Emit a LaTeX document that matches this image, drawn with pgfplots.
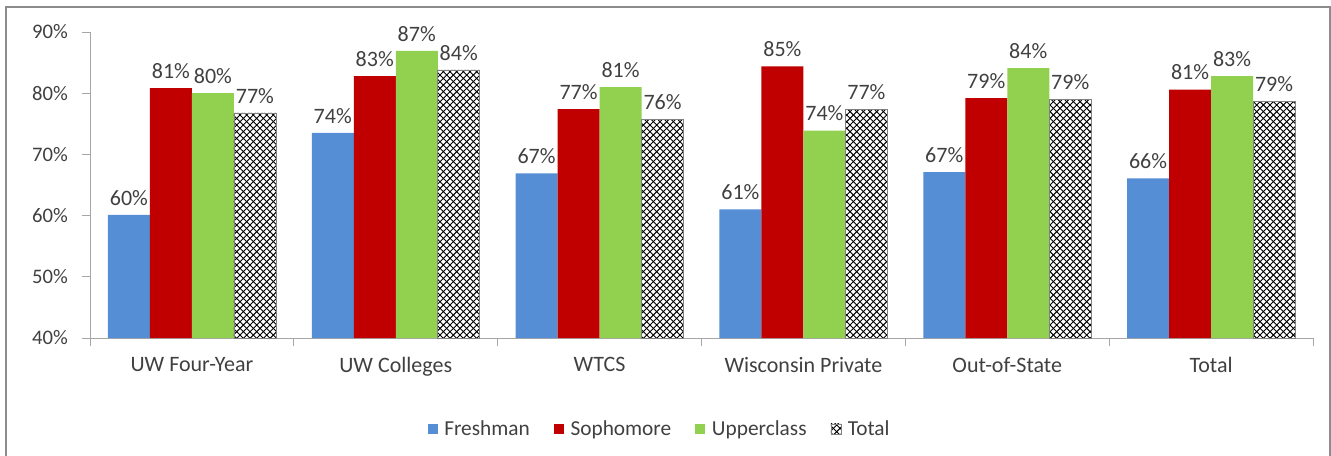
\documentclass[border=0pt]{standalone}
\usepackage{pgfplots}
\pgfplotsset{compat=1.18}
\usepackage{pgfplotstable}
\usepackage{fontspec}
\setmainfont{Carlito}
\usetikzlibrary{patterns.meta}
\definecolor{frc}{HTML}{558ED5}
\definecolor{soc}{HTML}{C00000}
\definecolor{upc}{HTML}{92D050}
\definecolor{txt}{HTML}{404040}
\definecolor{axc}{HTML}{A6A6A6}
\tikzdeclarepattern{name=bigcross, type=uncolored,
  bottom left={(-.5pt,-.5pt)}, top right={(5.5pt,5.5pt)}, tile size={(5pt,5pt)},
  code={\draw[line width=0.7pt] (0pt,0pt)--(5pt,5pt) (0pt,5pt)--(5pt,0pt);}}
\pgfplotstableread{
x fr frl so sol up upl to tol
0 60.1 60 80.85 81 80.0 80 76.8 77
1 73.5 74 82.8 83 86.9 87 83.8 84
2 66.9 67 77.4 77 81.0 81 75.7 76
3 61.0 61 84.4 85 73.9 74 77.4 77
4 67.1 67 79.2 79 84.1 84 79.0 79
5 66.1 66 80.6 81 82.8 83 78.7 79
}\data
\begin{document}
\begin{tikzpicture}
\useasboundingbox (0pt,0pt) rectangle (998.25pt,341.25pt);
\draw[color=black!45, line width=1.5pt] (4.5pt,-2pt) -- (4.5pt,336pt) -- (997.5pt,336pt) -- (997.5pt,-2pt);
\begin{axis}[
  at={(67.5pt,87.75pt)}, anchor=south west,
  scale only axis, width=917.25pt, height=229.5pt,
  ybar=0pt, bar width=31.5pt,
  xmin=-0.5, xmax=5.5, ymin=40, ymax=90,
  ytick={40,50,...,90},
  yticklabel={\pgfmathprintnumber{\tick}\%},
  xtick={0,...,5},
  xticklabels={UW Four-Year, UW Colleges, WTCS, Wisconsin Private, Out-of-State, Total},
  minor xtick={-0.5,0.5,...,5.5},
  axis x line*=bottom, axis y line*=left,
  axis line style={axc, line width=0.75pt},
  tick align=outside,
  major tick length=6pt, minor tick length=6pt,
  major x tick style={draw=none},
  minor x tick style={axc, line width=0.75pt},
  y tick style={axc, line width=0.75pt},
  clip=false,
  /pgf/number format/assume math mode=true,
  tick label style={font=\fontsize{16.5}{19}\selectfont, text=txt},
  yticklabel style={font=\fontsize{15.5}{18}\selectfont, xshift=-7pt},
  xticklabel style={yshift=-5pt},
  point meta=explicit symbolic,
  nodes near coords={\pgfplotspointmeta\%},
  nodes near coords style={font=\fontsize{16.5}{19}\selectfont, text=txt, yshift=3.5pt},
  legend image code/.code={\fill[#1] (0pt,-3.75pt) rectangle (7.5pt,3.75pt);},
  legend style={at={(0.466,-0.297)}, anchor=center, draw=none, fill=none,
    legend columns=4, font=\fontsize{16}{19}\selectfont, text=txt,
    /tikz/every odd column/.append style={column sep=3pt},
    /tikz/every even column/.append style={column sep=16pt}},
]
\addplot[fill=frc, draw=none] table[x=x,y=fr,meta=frl] \data;
\addplot[fill=soc, draw=none] table[x=x,y=so,meta=sol] \data;
\addplot[fill=upc, draw=none] table[x=x,y=up,meta=upl] \data;
\addplot[draw=black!50, pattern=bigcross, pattern color=black] table[x=x,y=to,meta=tol] \data;
\legend{Freshman, Sophomore, Upperclass, Total}
\end{axis}
\end{tikzpicture}
\end{document}
